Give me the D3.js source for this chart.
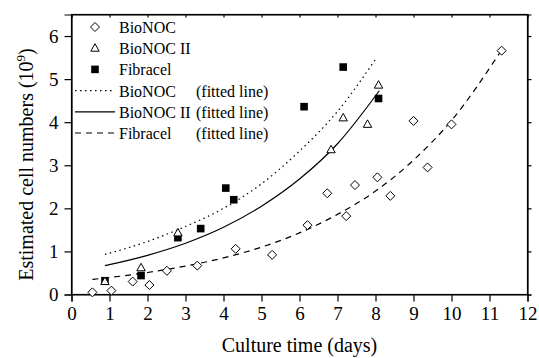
<!DOCTYPE html>
<html><head><meta charset="utf-8">
<script src="https://cdn.jsdelivr.net/npm/d3@7"></script>
<style>
html,body{margin:0;padding:0;background:#fff;}
svg text{font-family:"Liberation Serif","Times New Roman",serif;fill:#000;}
</style></head>
<body><svg id="c" width="539" height="358"></svg>
<script>
const xTicks = [0,1,2,3,4,5,6,7,8,9,10,11,12];
const yTicks = [0,1,2,3,4,5,6];

const bionocX = [0.55,1.05,1.61,2.05,2.51,3.31,4.32,5.28,6.21,6.73,7.23,7.46,8.05,8.39,9.0,9.37,10.0,11.32];
const bionocY = [0.05,0.09,0.30,0.22,0.55,0.67,1.06,0.92,1.61,2.35,1.82,2.54,2.72,2.29,4.03,2.95,3.95,5.66];

const bionoc2X = [0.88,1.83,2.80,6.83,7.15,7.79,8.08];
const bionoc2Y = [0.30,0.62,1.43,3.36,4.10,3.95,4.86];

const fibraX = [0.88,1.83,2.80,3.40,4.06,4.27,6.12,7.15,8.08];
const fibraY = [0.32,0.44,1.32,1.53,2.47,2.20,4.36,5.28,4.55];

const fitBionocX = [0.88,2,3,4,5,6,7,8];
const fitBionocY = [0.93,1.23,1.58,2.00,2.57,3.33,4.25,5.46];

const fitBionoc2X = [0.88,2,3,4,5,6,7,8.1];
const fitBionoc2Y = [0.67,0.91,1.19,1.56,2.05,2.68,3.50,4.73];

const fitFibraX = [0.55,2,3,4,5,6,7,8,9,10,11.3];
const fitFibraY = [0.35,0.51,0.66,0.85,1.10,1.43,1.86,2.40,3.12,4.04,5.65];

const legendNames = ["BioNOC","BioNOC II","Fibracel","BioNOC","BioNOC II","Fibracel"];
const legendSuffix = ["","","","(fitted line)","(fitted line)","(fitted line)"];
const xTitle = "Culture time (days)";

const svg = d3.select("#c");
const L = 71.5, R = 527.5, T = 14.5, B = 294.5;
const x = d3.scaleLinear().domain([0,12]).range([L,R]);
const y = d3.scaleLinear().domain([0,6.5]).range([B,T]);

const zip = (a,b) => a.map((v,i)=>[v,b[i]]);

// frame
svg.append("rect").attr("x",L).attr("y",T).attr("width",R-L).attr("height",B-T)
  .attr("fill","none").attr("stroke","#000").attr("stroke-width",1.2);

// axes
const xAxis = svg.append("g").attr("transform",`translate(0,${B})`)
  .call(d3.axisBottom(x).tickValues(xTicks).tickSize(7).tickPadding(5).tickFormat(d3.format("d")));
const yAxis = svg.append("g").attr("transform",`translate(${L},0)`)
  .call(d3.axisLeft(y).tickValues(yTicks).tickSize(7).tickPadding(6).tickFormat(d3.format("d")));
const xTop = svg.append("g").attr("transform",`translate(0,${T})`)
  .call(d3.axisTop(x).tickValues(xTicks).tickSize(-3).tickFormat(""));
const yRight = svg.append("g").attr("transform",`translate(${R},0)`)
  .call(d3.axisRight(y).tickValues(yTicks).tickSize(4).tickFormat(""));
[xAxis,yAxis,xTop,yRight].forEach(g=>{
  g.attr("font-family",null);
  g.select(".domain").attr("stroke","#000").attr("stroke-width",1.2);
  g.selectAll(".tick line").attr("stroke","#000").attr("stroke-width",1.2);
  g.selectAll(".tick text").style("font-family","'Liberation Serif',serif").style("font-size","19px").attr("fill","#000");
});

// titles
svg.append("text").attr("x",(L+R)/2).attr("y",352).attr("text-anchor","middle")
  .style("font-size","20px").text(xTitle);
const yt = svg.append("text").attr("transform",`translate(33,${(T+B)/2+10}) rotate(-90)`)
  .attr("text-anchor","middle").style("font-size","20px");
yt.append("tspan").text("Estimated cell numbers (10");
yt.append("tspan").attr("dy",-8).style("font-size","13px").text("9");
yt.append("tspan").attr("dy",8).text(")");

// fitted lines
const line = d3.line().x(d=>x(d[0])).y(d=>y(d[1])).curve(d3.curveMonotoneX);
const styles = [
  {dash:"1.5,3.5"},
  {dash:null},
  {dash:"6,5"}
];
const fits = [zip(fitBionocX,fitBionocY), zip(fitBionoc2X,fitBionoc2Y), zip(fitFibraX,fitFibraY)];
fits.forEach((f,i)=>{
  svg.append("path").attr("d",line(f)).attr("fill","none").attr("stroke","#000")
    .attr("stroke-width",1.2).attr("stroke-dasharray",styles[i].dash);
});

// markers
const diamond = (g,cx,cy)=>g.append("path")
  .attr("d",`M${cx},${cy-4.5}L${cx+4.5},${cy}L${cx},${cy+4.5}L${cx-4.5},${cy}Z`)
  .attr("fill","#fff").attr("stroke","#000").attr("stroke-width",1);
const tri = (g,cx,cy)=>g.append("path")
  .attr("d",`M${cx},${cy-4.5}L${cx+4.2},${cy+3}L${cx-4.2},${cy+3}Z`)
  .attr("fill","#fff").attr("stroke","#000").attr("stroke-width",1);
const sq = (g,cx,cy)=>g.append("rect").attr("x",cx-3.8).attr("y",cy-3.8)
  .attr("width",7.6).attr("height",7.6).attr("fill","#000");

const gm = svg.append("g");
zip(bionocX,bionocY).forEach(d=>diamond(gm,x(d[0]),y(d[1])));
zip(fibraX,fibraY).forEach(d=>sq(gm,x(d[0]),y(d[1])));
zip(bionoc2X,bionoc2Y).forEach(d=>tri(gm,x(d[0]),y(d[1])));

// legend
const lg = svg.append("g");
const rowY = i => 27 + i*21.2;
legendNames.forEach((t,i)=>{
  const cy = rowY(i);
  if(i===0) diamond(lg,95,cy);
  else if(i===1) tri(lg,95,cy);
  else if(i===2) sq(lg,95,cy);
  else {
    lg.append("line").attr("x1",75).attr("x2",115).attr("y1",cy).attr("y2",cy)
      .attr("stroke","#000").attr("stroke-width",1.2).attr("stroke-dasharray",styles[i-3].dash);
  }
  lg.append("text").attr("x",119).attr("y",cy+6).style("font-size","16px").text(t);
  if(legendSuffix[i]) lg.append("text").attr("x",196).attr("y",cy+6).style("font-size","16px").text(legendSuffix[i]);
});
</script></body></html>
